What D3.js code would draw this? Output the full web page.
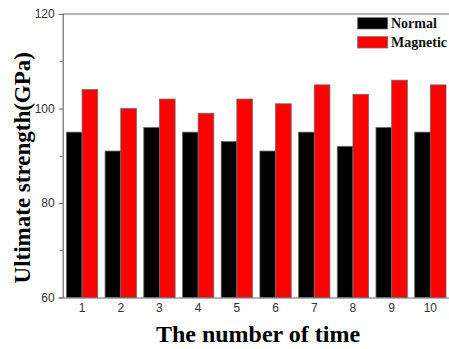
<!DOCTYPE html>
<html><head><meta charset="utf-8">
<script src="https://cdn.jsdelivr.net/npm/d3@7"></script>
<style>body{margin:0;background:#fff}svg{display:block}</style>
</head><body>
<svg id="c" width="449" height="349"></svg>
<script>
const categories = ["1","2","3","4","5","6","7","8","9","10"];
const normal = [95, 91, 96, 95, 93, 91, 95, 92, 96, 95];
const magnetic = [104, 100, 102, 99, 102, 101, 105, 103, 106, 105];
const seriesNames = ["Normal", "Magnetic"];
const seriesColors = ["#000000", "#ff0000"];
const yTicks = [60, 80, 100, 120];
const yMinorTicks = [70, 90, 110];

const svg = d3.select("#c");
const L = 62.7, R = 449.7, T = 14, B = 297.5;
const x = d3.scaleBand().domain(categories).range([L, R]).paddingInner(0.19).paddingOuter(0.095);
const xs = d3.scaleBand().domain(seriesNames).range([0, x.bandwidth()]);
const y = d3.scaleLinear().domain([60, 120]).range([B, T]);

const data = [normal, magnetic];
const g = svg.append("g");
categories.forEach((c, i) => {
  seriesNames.forEach((s, j) => {
    g.append("rect")
      .attr("x", x(c) + xs(s))
      .attr("y", y(data[j][i]))
      .attr("width", xs.bandwidth())
      .attr("height", y(60) - y(data[j][i]))
      .attr("fill", seriesColors[j])
      .attr("stroke", "#6b6b6b").attr("stroke-width", 0.8);
  });
});

// frame
svg.append("line").attr("x1", L).attr("x2", R).attr("y1", T).attr("y2", T).attr("stroke", "#6b6b6b").attr("stroke-width", 1.2);
svg.append("line").attr("x1", R).attr("x2", R).attr("y1", T).attr("y2", B).attr("stroke", "#6b6b6b").attr("stroke-width", 1.2);

// y axis
const ya = svg.append("g").attr("transform", `translate(${L},0)`)
  .call(d3.axisLeft(y).tickValues(yTicks).tickSize(4).tickPadding(4).tickFormat(d3.format("d")));
ya.select(".domain").attr("stroke", "#6b6b6b").attr("stroke-width", 1.2);
ya.selectAll(".tick line").attr("stroke", "#6b6b6b");
ya.selectAll("text").attr("font-family", "Liberation Sans, Arial, sans-serif").attr("font-size", 12).attr("fill", "#333");
svg.append("g").attr("transform", `translate(${L},0)`)
  .call(d3.axisLeft(y).tickValues(yMinorTicks).tickSize(3).tickFormat(""))
  .call(s => { s.select(".domain").remove(); s.selectAll("line").attr("stroke", "#6b6b6b"); });

// x axis
const xa = svg.append("g").attr("transform", `translate(0,${B})`)
  .call(d3.axisBottom(x).tickSize(0).tickPadding(6));
xa.select(".domain").attr("stroke", "#6b6b6b").attr("stroke-width", 1.2);
xa.selectAll("text").attr("font-family", "Liberation Sans, Arial, sans-serif").attr("font-size", 12).attr("fill", "#333");

// axis titles
svg.append("text").attr("x", 258).attr("y", 342)
  .attr("text-anchor", "middle").attr("font-family", "Liberation Serif, Times New Roman, serif")
  .attr("font-weight", "bold").attr("font-size", 24).text("The number of time");
svg.append("text").attr("transform", `translate(30,${(T + B) / 2 + 12}) rotate(-90)`)
  .attr("text-anchor", "middle").attr("font-family", "Liberation Serif, Times New Roman, serif")
  .attr("font-weight", "bold").attr("font-size", 23).text("Ultimate strength(GPa)");

// legend
const lg = svg.append("g");
seriesNames.forEach((s, j) => {
  const yy = 17.7 + j * 19;
  lg.append("rect").attr("x", 357.7).attr("y", yy).attr("width", 30).attr("height", 11.3)
    .attr("fill", seriesColors[j]).attr("stroke", "#6b6b6b").attr("stroke-width", 0.8);
  lg.append("text").attr("x", 391).attr("y", yy + 10).attr("font-family", "Liberation Serif, Times New Roman, serif")
    .attr("font-weight", "bold").attr("font-size", 14).attr("fill", "#111").text(s);
});
</script>
</body></html>
